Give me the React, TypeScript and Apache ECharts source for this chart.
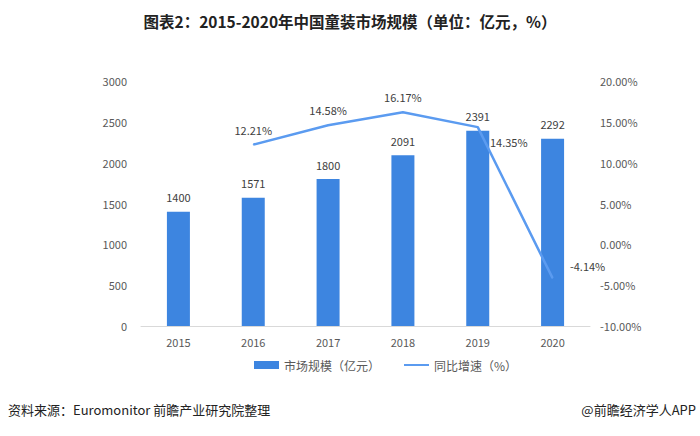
import React, { useEffect, useRef } from "react";
import * as echarts from "echarts";

const categories = ["2015", "2016", "2017", "2018", "2019", "2020"];
const marketSize = [1400, 1571, 1800, 2091, 2391, 2292];
const growth: (number | null)[] = [null, 12.21, 14.58, 16.17, 14.35, -4.14];
const titleText = "图表2：2015-2020年中国童装市场规模（单位：亿元，%）";
const sourceText = "资料来源：Euromonitor 前瞻产业研究院整理";
const brandText = "@前瞻经济学人APP";

export default function App() {
  const ref = useRef<HTMLDivElement>(null);
  useEffect(() => {
    const chart = echarts.init(ref.current!, null, { renderer: "svg" });
    const font = "'Microsoft YaHei','Noto Sans CJK SC','Noto Sans',sans-serif";
    chart.setOption({
      animation: false,
      backgroundColor: "#ffffff",
      textStyle: { fontFamily: font },
      title: {
        text: titleText,
        left: "center",
        top: 8,
        textStyle: { fontSize: 15.5, fontWeight: "bold", color: "#222", fontFamily: font },
      },
      graphic: [
        { type: "text", left: 8, top: 403, style: { text: sourceText, fontSize: 13, fill: "#222", fontFamily: font } },
        { type: "text", right: 4, top: 403, style: { text: brandText, fontSize: 13, fill: "#222", fontFamily: font } },
      ],
      legend: {
        bottom: 60,
        left: 249,
        itemWidth: 25,
        itemHeight: 8,
        itemGap: 24,
        textStyle: { fontSize: 12, color: "#595959" },
        data: [
          { name: "市场规模（亿元）", icon: "rect" },
          { name: "同比增速（%）", icon: "path://M0,0 L25,0 L25,2 L0,2 Z" },
        ],
      },
      grid: { left: 141, right: 110, top: 81, bottom: 110 },
      xAxis: {
        type: "category",
        data: categories,
        axisLine: { lineStyle: { color: "#d9d9d9" } },
        axisTick: { show: false },
        axisLabel: { color: "#595959", fontSize: 11, margin: 10 },
      },
      yAxis: [
        {
          type: "value",
          min: 0,
          max: 3000,
          interval: 500,
          splitLine: { show: false },
          axisLine: { show: false },
          axisTick: { show: false },
          axisLabel: { color: "#595959", fontSize: 11, margin: 14, formatter: (v: number) => String(v) },
        },
        {
          type: "value",
          min: -10,
          max: 20,
          interval: 5,
          splitLine: { show: false },
          axisLine: { show: false },
          axisTick: { show: false },
          axisLabel: { color: "#595959", fontSize: 11, margin: 10, formatter: (v: number) => v.toFixed(2) + "%" },
        },
      ],
      series: [
        {
          name: "市场规模（亿元）",
          type: "bar",
          data: marketSize,
          barWidth: 23,
          itemStyle: { color: "#3d85e0" },
          label: { show: true, position: "top", color: "#404040", fontSize: 11, distance: 9 },
        },
        {
          name: "同比增速（%）",
          type: "line",
          yAxisIndex: 1,
          data: growth,
          symbol: "circle",
          symbolSize: 1,
          showSymbol: true,
          lineStyle: { color: "#5b9bf0", width: 2.5 },
          itemStyle: { color: "#5b9bf0" },
          label: {
            show: true,
            position: "top",
            color: "#404040",
            fontSize: 11,
            distance: 9,
            formatter: (p: any) => Number(p.value).toFixed(2) + "%",
          },
          labelLayout: (params: any) => {
            if (params.dataIndex === 4) {
              return { dx: 31, dy: 30 };
            }
            if (params.dataIndex === 5) {
              return { dx: 35, dy: 3 };
            }
            return {};
          },
        },
      ],
    });
    return () => chart.dispose();
  }, []);
  return <div ref={ref} style={{ width: 700, height: 436, position: "absolute", left: 0, top: 0 }} />;
}
